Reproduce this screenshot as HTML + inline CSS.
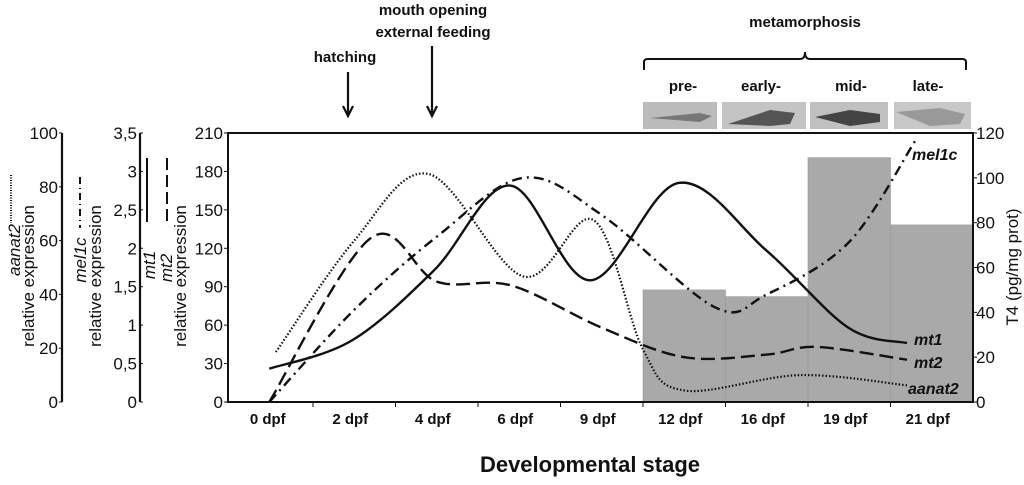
<!DOCTYPE html>
<html><head><meta charset="utf-8"><style>
body{margin:0;background:#fff;width:1024px;height:480px;overflow:hidden}
svg text{font-family:"Liberation Sans",Arial,sans-serif;fill:#111}
</style></head><body>
<svg id="c" width="1024" height="480" viewBox="0 0 1024 480" xmlns="http://www.w3.org/2000/svg">
<g id="bars"></g>
<g id="lines"></g>
<g id="axes"></g>
<g>
 <text x="345" y="62" font-size="15" font-weight="bold" text-anchor="middle">hatching</text>
 <path d="M348 72V114M343 106L348 116L353 106" stroke="#111" stroke-width="2.2" fill="none"/>
 <text x="433" y="15" font-size="15" font-weight="bold" text-anchor="middle">mouth opening</text>
 <text x="433" y="37" font-size="15" font-weight="bold" text-anchor="middle">external feeding</text>
 <path d="M432 46V114M427 106L432 116L437 106" stroke="#111" stroke-width="2.2" fill="none"/>
 <text x="805" y="27" font-size="15" font-weight="bold" text-anchor="middle">metamorphosis</text>
 <path d="M644 70V62Q644 59 648 59H800Q805 59 805 52Q805 59 810 59H962Q966 59 966 62V70" stroke="#111" stroke-width="2" fill="none"/>
 <text x="683" y="91" font-size="15" font-weight="bold" text-anchor="middle">pre-</text>
 <text x="761" y="91" font-size="15" font-weight="bold" text-anchor="middle">early-</text>
 <text x="851" y="91" font-size="15" font-weight="bold" text-anchor="middle">mid-</text>
 <text x="928" y="91" font-size="15" font-weight="bold" text-anchor="middle">late-</text>
 <g>
  <rect x="643" y="102" width="74" height="27" fill="#bbb"/><path d="M650 118L700 113L712 116L700 122Z" fill="#777"/>
  <rect x="722" y="102" width="84" height="27" fill="#c4c4c4"/><path d="M728 124L770 110L795 113L790 124L770 126Z" fill="#555"/>
  <rect x="810" y="102" width="78" height="27" fill="#c0c0c0"/><path d="M815 117L850 110L880 114L880 122L850 126Z" fill="#444"/>
  <rect x="894" y="102" width="77" height="27" fill="#c8c8c8"/><path d="M896 112L940 108L965 114L960 124L930 126Z" fill="#999"/>
 </g>
 <text x="590" y="472" font-size="22" font-weight="bold" text-anchor="middle">Developmental stage</text>
</g>
</svg>
<script>
const categories=["0 dpf","2 dpf","4 dpf","6 dpf","9 dpf","12 dpf","16 dpf","19 dpf","21 dpf"];
const t4Stages=[5,6,7,8];
const t4Values=[50,47,109,79];
const mt1X=[-0.03,0.97,1.97,2.89,3.86,4.93,6.0,6.99,7.7];
const mt1Y=[26,48,103,169,95,171,118,58,46];
const mt2X=[-0.03,1.2,2,2.9,4,5,6,6.6,7.7];
const mt2Y=[0,128,94,91,58,35,37,43,33];
const mel1cX=[-0.03,1,2,3.05,4,5.37,6,7,7.8];
const mel1cY=[0,72,129,175,146,74,84,125,204];
const aanat2X=[0.05,1,1.9,3.05,3.9,4.5,5,6.4,7.7];
const aanat2Y=[39,126,178,98,142,41,9,21,13];
const leftTicks=[0,30,60,90,120,150,180,210];
const rightTicks=[0,20,40,60,80,100,120];
const aanatTicks=["0","20","40","60","80","100"];
const mtTicks=["0","0,5","1","1,5","2","2,5","3","3,5"];
const NS="http://www.w3.org/2000/svg";
const X0=230.5,BW=82.5,Y0=402,Y1=133;
const xc=i=>X0+BW/2+i*BW;
const yL=v=>Y0-(v/210)*(Y0-Y1);
const yR=v=>Y0-(v/120)*(Y0-Y1);
function mk(tag,attrs,parent){const e=document.createElementNS(NS,tag);for(const k in attrs)e.setAttribute(k,attrs[k]);parent.appendChild(e);return e;}
const bars=document.getElementById('bars'),lines=document.getElementById('lines'),axes=document.getElementById('axes');
t4Values.forEach((v,k)=>{const i=t4Stages[k];
 const r=mk('rect',{x:X0+i*BW,y:yR(v),width:BW,height:Y0-yR(v),fill:'#a9a9a9',stroke:'#999','stroke-width':0.6},bars);
 
 });
function path(xs,ys){const p=xs.map((x,i)=>[xc(x),yL(ys[i])]);let d='M'+p[0][0]+' '+p[0][1];
 for(let i=0;i<p.length-1;i++){const a=p[i-1]||p[i],b=p[i],c=p[i+1],e=p[i+2]||c;
  d+=` C${b[0]+(c[0]-a[0])/6} ${b[1]+(c[1]-a[1])/6} ${c[0]-(e[0]-b[0])/6} ${c[1]-(e[1]-b[1])/6} ${c[0]} ${c[1]}`;}return d;}
const ser=[[mt1X,mt1Y,'','mt1-line',2.4],[mt2X,mt2Y,'14 6','mt2-line',2.4],[mel1cX,mel1cY,'10 5 2 5','mel1c-line',2.4],[aanat2X,aanat2Y,'1.5 2','aanat2-line',2.2]];
ser.forEach(s=>{const e=mk('path',{d:path(s[0],s[1]),fill:'none',stroke:'#111','stroke-width':s[4],'stroke-dasharray':s[2]},lines);
 
 });
[['mt1',340],['mt2',363],['aanat2',389]].forEach(l=>{const t=mk('text',{x:l[0]=='aanat2'?908:914,y:l[1]+5,'font-size':16,'font-weight':'bold','font-style':'italic'},lines);t.textContent=l[0];
 
 });
{const t=mk('text',{x:912,y:160,'font-size':16,'font-weight':'bold','font-style':'italic'},lines);t.textContent='mel1c';
 
 }
mk('path',{d:`M228 ${Y1}H973V${Y0}H228Z`,fill:'none',stroke:'#111','stroke-width':2},axes);
leftTicks.forEach(v=>{mk('line',{x1:224,x2:228,y1:yL(v),y2:yL(v),stroke:'#111'},axes);
 const t=mk('text',{x:223,y:yL(v)+6,'font-size':17,'text-anchor':'end'},axes);t.textContent=v;
 
 });
rightTicks.forEach(v=>{mk('line',{x1:973,x2:977,y1:yR(v),y2:yR(v),stroke:'#111'},axes);
 const t=mk('text',{x:976,y:yR(v)+6,'font-size':17},axes);t.textContent=v;
 
 });
categories.forEach((c,i)=>{if(i<8)mk('line',{x1:X0+(i+1)*BW,x2:X0+(i+1)*BW,y1:Y0,y2:Y0+5,stroke:'#111'},axes);
 const t=mk('text',{x:xc(i)-4,y:424,'font-size':15,'font-weight':'bold','text-anchor':'middle'},axes);t.textContent=c;
 
 });
mk('line',{x1:62,x2:62,y1:Y1,y2:Y0,stroke:'#111','stroke-width':2.2},axes);
aanatTicks.forEach((v,i)=>{const y=Y0-i*(Y0-Y1)/5;mk('line',{x1:59,x2:62,y1:y,y2:y,stroke:'#111'},axes);
 const t=mk('text',{x:58,y:y+6,'font-size':17,'text-anchor':'end'},axes);t.textContent=v;
 
 });
mk('line',{x1:140,x2:140,y1:Y1,y2:Y0,stroke:'#111','stroke-width':2.2},axes);
mtTicks.forEach((v,i)=>{const y=Y0-i*(Y0-Y1)/7;mk('line',{x1:140,x2:143,y1:y,y2:y,stroke:'#111'},axes);
 const t=mk('text',{x:137,y:y+6,'font-size':17,'text-anchor':'end'},axes);t.textContent=v;
 
 });
function vt(x,y,txt,it,name){const t=mk('text',{x:0,y:0,'font-size':17,'text-anchor':'middle',transform:`translate(${x},${y}) rotate(-90)`,'font-style':it?'italic':'normal'},axes);t.textContent=txt;
 
 }
vt(20,250,'aanat2',true,'aanat2-axis-name');vt(34,276,'relative expression',false,'aanat2-axis-title');
vt(86,260,'mel1c',true,'mel1c-axis-name');vt(101,276,'relative expression',false,'mel1c-axis-title');
vt(155,265,'mt1',true,'mt1-axis-name');vt(172,268,'mt2',true,'mt2-axis-name');vt(186,276,'relative expression',false,'mt-axis-title');
vt(1018,267,'T4 (pg/mg prot)',false,'t4-axis-title');
mk('line',{x1:11,x2:11,y1:175,y2:223,stroke:'#111','stroke-width':2,'stroke-dasharray':'1 1.5'},axes);
mk('line',{x1:80,x2:80,y1:177,y2:228,stroke:'#111','stroke-width':2,'stroke-dasharray':'7 4 1 4'},axes);
mk('line',{x1:147,x2:147,y1:158,y2:222,stroke:'#111','stroke-width':2},axes);
mk('line',{x1:167,x2:167,y1:158,y2:222,stroke:'#111','stroke-width':2,'stroke-dasharray':'12 5'},axes);
</script>
</body></html>
